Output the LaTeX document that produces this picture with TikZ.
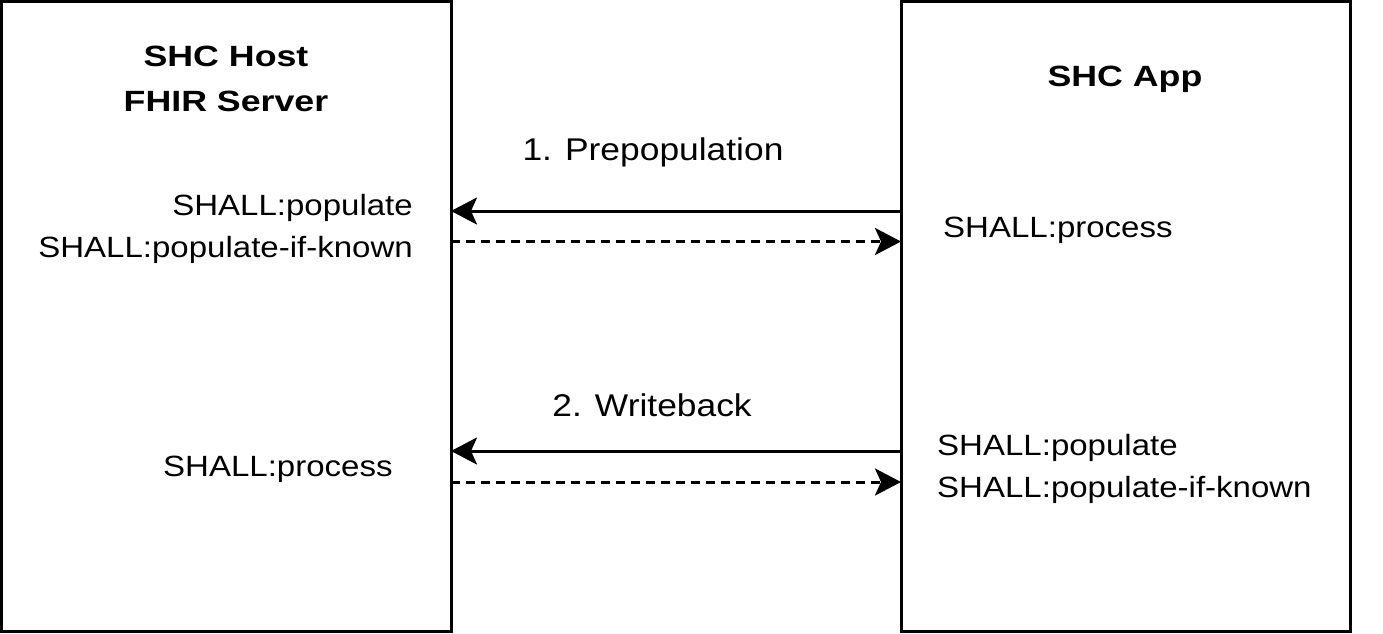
\documentclass[tikz,border=0pt]{standalone}
\usepackage{fontspec}
\setmainfont[FakeStretch=1.127, BoldFeatures={FakeStretch=1.22}]{Liberation Sans}
\usetikzlibrary{arrows.meta}
\begin{document}
\begin{tikzpicture}[x=1pt,y=-1pt,
  box/.style={draw=black, line width=3pt, fill=white, inner sep=0pt, outer sep=0pt},
  lbl/.style={inner sep=0pt, font=\fontsize{29.3pt}{35pt}\selectfont},
  steplbl/.style={inner sep=0pt, font=\fontsize{31.4pt}{37pt}\selectfont},
  ttl/.style={inner sep=0pt, font=\fontsize{29.3pt}{35pt}\selectfont\bfseries},
  solidarrow/.style={line width=3pt, -{Stealth[length=26pt, width=27pt, inset=6pt]}},
  dasharrow/.style={line width=3pt, dash pattern=on 9pt off 6pt, -{Stealth[length=26pt, width=27pt, inset=6pt]}}
]
\useasboundingbox (0,0) rectangle (1383,633);
\fill[white] (0,0) rectangle (1383,633);

\node[box, minimum width=449.5pt, minimum height=629.5pt] (host) at (226.25,316.25) {};
\node[box, minimum width=449.5pt, minimum height=629.5pt] (app) at (1125.75,316.25) {};

% titles
\node[ttl, anchor=base] (hostt1) at (226,66) {SHC Host};
\node[ttl, anchor=base] (hostt2) at (226,111) {FHIR Server};
\node[ttl, anchor=base] (appt) at (1125,86) {SHC App};

% step labels
\node[steplbl, anchor=base] (step1) at (653,160) {1. Prepopulation};
\node[steplbl, anchor=base] (step2) at (652,416) {2. Writeback};

% host labels
\node[lbl, anchor=base east] (hpop) at (413,215) {SHALL:populate};
\node[lbl, anchor=base east] (hpopk) at (413,257.5) {SHALL:populate-if-known};
\node[lbl, anchor=base west] (hproc) at (163,476.5) {SHALL:process};

% app labels
\node[lbl, anchor=base west] (aproc) at (943,237) {SHALL:process};
\node[lbl, anchor=base west] (apop) at (937,455) {SHALL:populate};
\node[lbl, anchor=base west] (apopk) at (937,497) {SHALL:populate-if-known};

% connectors
\draw[solidarrow] (app.west |- 0,211) -- (host.east |- 0,211);
\draw[dasharrow] (host.east |- 0,241.5) -- (app.west |- 0,241.5);
\draw[solidarrow] (app.west |- 0,451) -- (host.east |- 0,451);
\draw[dasharrow] (host.east |- 0,482) -- (app.west |- 0,482);
\end{tikzpicture}
\end{document}
